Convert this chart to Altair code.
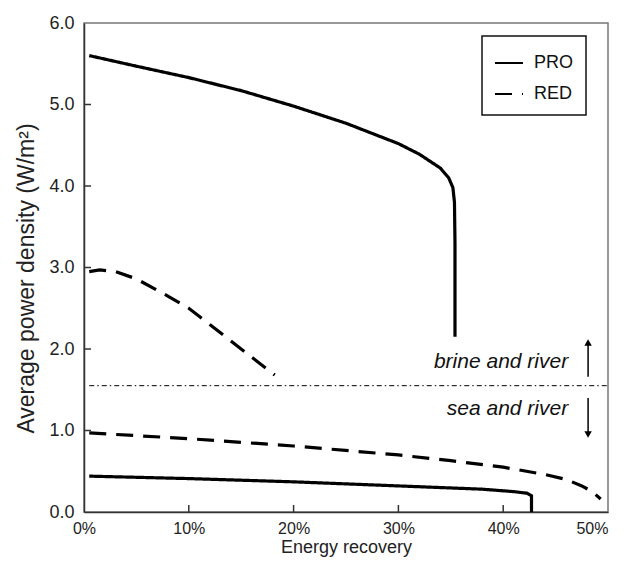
import altair as alt
import pandas as pd

# ---- data ----
pro_brine_x = [0.5, 5, 10, 15, 20, 25, 30, 32, 34, 34.8, 35.2, 35.35, 35.4, 35.4]
pro_brine_y = [5.6, 5.47, 5.33, 5.17, 4.98, 4.77, 4.52, 4.39, 4.22, 4.1, 3.98, 3.8, 3.3, 2.15]

red_brine_x = [0.5, 1.5, 3, 5, 8, 10, 12, 14, 16, 18.2]
red_brine_y = [2.95, 2.97, 2.95, 2.86, 2.65, 2.5, 2.3, 2.1, 1.9, 1.68]

red_sea_x = [0.5, 10, 20, 30, 35, 40, 44, 46, 47.5, 48.5, 49.3]
red_sea_y = [0.97, 0.9, 0.81, 0.7, 0.63, 0.55, 0.46, 0.4, 0.32, 0.25, 0.16]

pro_sea_x = [0.5, 10, 20, 30, 38, 41, 42.3, 42.7, 42.7]
pro_sea_y = [0.44, 0.41, 0.37, 0.32, 0.28, 0.25, 0.23, 0.2, 0.0]

divider_x = [0.5, 50]
divider_y = [1.55, 1.55]

x_ticks = [0, 10, 20, 30, 40, 50]
y_ticks = [0, 1, 2, 3, 4, 5, 6]

labels_text = ["brine and river", "sea and river"]
labels_x = [46.2, 46.2]
labels_y = [1.84, 1.26]

arrow_x = [48.1, 48.1]
arrow_from = [1.66, 1.40]
arrow_to = [2.08, 0.95]

series_names = ["PRO", "RED"]

# ---- build tables ----
rows = []
def add(xs, ys, s, c):
    for i, (a, b) in enumerate(zip(xs, ys)):
        rows.append({"x": a, "y": b, "series": s, "case": c, "o": i})

add(pro_brine_x, pro_brine_y, "PRO", "brine")
add(red_brine_x, red_brine_y, "RED", "brine")
add(red_sea_x, red_sea_y, "RED", "sea")
add(pro_sea_x, pro_sea_y, "PRO", "sea")
curves = pd.DataFrame(rows)

div_df = pd.DataFrame({"x": divider_x, "y": divider_y})
lab_df = pd.DataFrame({"t": labels_text, "x": labels_x, "y": labels_y})
arr_df = pd.DataFrame({"x": arrow_x, "y": arrow_from, "y2": arrow_to,
                       "shape": ["triangle-up", "triangle-down"]})
xt_df = pd.DataFrame({"x": x_ticks[1:-1]})
yt_df = pd.DataFrame({"y": y_ticks[1:-1]})

FONT = "Liberation Sans"
W, H = 524, 489
TICK_LEN_PX = 7

xscale = alt.Scale(domain=[0, 50], nice=False, zero=False)
yscale = alt.Scale(domain=[0, 6], nice=False)

xenc = alt.X("x:Q", scale=xscale, axis=alt.Axis(
    values=x_ticks, labelExpr="datum.value + '%'", title="Energy recovery",
    labelAlign={"condition": {"test": "datum.value == 50", "value": "right"},
                "value": "center"},
    tickSize=0, labelPadding=8, titlePadding=2, grid=False, labelFlush=False,
    domainColor="#333", domainWidth=1.5, labelFontSize=16, titleFontSize=18,
    labelColor="#222", titleColor="#222", labelFont=FONT, titleFont=FONT,
    titleFontWeight="normal"))
yenc = alt.Y("y:Q", scale=yscale, axis=alt.Axis(
    values=y_ticks, format=".1f", title="Average power density (W/m²)",
    tickSize=0, labelPadding=10, titlePadding=10, grid=False, labelFlush=False,
    titleY=255,
    domainColor="#333", domainWidth=1.5, labelFontSize=18, titleFontSize=23,
    labelColor="#222", titleColor="#222", labelFont=FONT, titleFont=FONT,
    titleFontWeight="normal"))

lines = alt.Chart(curves).mark_line(color="black", strokeWidth=3.2).encode(
    x=xenc, y=yenc,
    strokeDash=alt.StrokeDash("series:N",
        scale=alt.Scale(domain=series_names, range=[[1, 0], [17, 10]]),
        legend=alt.Legend(title=None, orient="none", legendX=398, legendY=13)),
    detail="case:N",
    order="o:Q",
)

divider = alt.Chart(div_df).mark_line(color="black", strokeWidth=1,
                                      strokeDash=[5, 3, 1.5, 3]).encode(
    x=alt.X("x:Q", scale=xscale), y=alt.Y("y:Q", scale=yscale))

texts = alt.Chart(lab_df).mark_text(align="right", baseline="middle",
    fontStyle="italic", fontSize=21, font=FONT, color="#111").encode(
    x=alt.X("x:Q", scale=xscale), y=alt.Y("y:Q", scale=yscale), text="t:N")

shafts = alt.Chart(arr_df).mark_rule(color="black", strokeWidth=1.5).encode(
    x=alt.X("x:Q", scale=xscale), y=alt.Y("y:Q", scale=yscale),
    y2="y2:Q")

heads = alt.Chart(arr_df).mark_point(color="black", filled=True, size=55,
                                     opacity=1).encode(
    x=alt.X("x:Q", scale=xscale), y=alt.Y("y2:Q", scale=yscale),
    shape=alt.Shape("shape:N", scale=None, legend=None))

# inward tick marks
xticks = alt.Chart(xt_df).mark_rule(color="#333", strokeWidth=1.5).encode(
    x=alt.X("x:Q", scale=xscale),
    y=alt.Y(datum=0, scale=yscale),
    y2=alt.Y2(datum=6 * TICK_LEN_PX / H))
yticks = alt.Chart(yt_df).mark_rule(color="#333", strokeWidth=1.5).encode(
    y=alt.Y("y:Q", scale=yscale),
    x=alt.X(datum=0, scale=xscale),
    x2=alt.X2(datum=50 * TICK_LEN_PX / W))

chart = alt.layer(lines, divider, texts, shafts, heads, xticks, yticks).properties(
    width=W, height=H,
    padding={"left": 76, "top": 15, "right": 13, "bottom": 46},
    autosize=alt.AutoSizeParams(type="none"),
    background="white",
).configure_view(stroke="#777", strokeWidth=1.5).configure_legend(
    strokeColor="#111", strokeWidth=1.5, padding=12,
    symbolType="stroke", symbolSize=784, symbolStrokeWidth=2,
    symbolStrokeColor="black", labelFontSize=18, labelFont=FONT,
    labelColor="#111", labelOffset=10, rowPadding=7,
)

chart.save("out.html", embed_options={"renderer": "svg", "actions": False})
